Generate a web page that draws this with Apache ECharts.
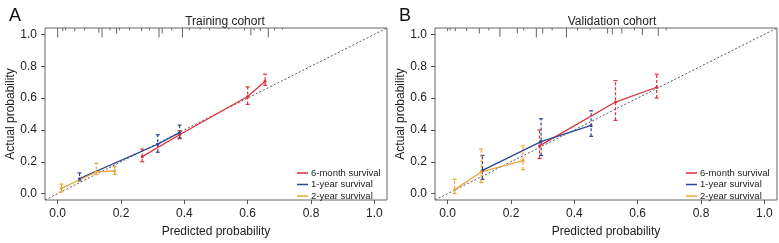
<!DOCTYPE html>
<html>
<head>
<meta charset="utf-8">
<script src="https://cdn.jsdelivr.net/npm/echarts@6/dist/echarts.min.js"></script>
<style>
  html, body { margin: 0; padding: 0; background: #fff; }
  #chart { width: 779px; height: 243px; }
</style>
</head>
<body>
<div id="chart"></div>
<script>
// tick labels shared by both panels
var axisTicks = [0, 0.2, 0.4, 0.6, 0.8, 1.0];
var seriesNames = ['6-month survival', '1-year survival', '2-year survival'];
var seriesColors = ['#e0313b', '#2d4592', '#eda53a'];

// training cohort: [predicted, actual] and [predicted, lower, upper]
var trainSixMonth = [[0.267, 0.232], [0.385, 0.370], [0.600, 0.610], [0.655, 0.705]];
var trainSixMonthErr = [[0.267, 0.20, 0.28], [0.385, 0.345, 0.395], [0.600, 0.56, 0.67], [0.655, 0.68, 0.75]];
var trainOneYear = [[0.069, 0.094], [0.316, 0.310], [0.385, 0.383]];
var trainOneYearErr = [[0.069, 0.08, 0.13], [0.316, 0.26, 0.37], [0.385, 0.35, 0.43]];
var trainTwoYear = [[0.012, 0.033], [0.122, 0.136], [0.180, 0.142]];
var trainTwoYearErr = [[0.012, 0.01, 0.06], [0.122, 0.12, 0.19], [0.180, 0.12, 0.17]];

// validation cohort
var valSixMonth = [[0.290, 0.300], [0.530, 0.575], [0.660, 0.668]];
var valSixMonthErr = [[0.290, 0.22, 0.40], [0.530, 0.46, 0.71], [0.660, 0.60, 0.75]];
var valOneYear = [[0.110, 0.146], [0.295, 0.327], [0.453, 0.428]];
var valOneYearErr = [[0.110, 0.09, 0.24], [0.295, 0.24, 0.47], [0.453, 0.36, 0.52]];
var valTwoYear = [[0.022, 0.025], [0.106, 0.136], [0.238, 0.208]];
var valTwoYearErr = [[0.022, 0.00, 0.09], [0.106, 0.07, 0.28], [0.238, 0.15, 0.30]];

// rug of predicted probabilities along the top: [predicted, spike length]
var trainRug = [[0.000, 0.06], [0.016, 0.02], [0.025, 0.015], [0.054, 0.02], [0.085, 0.015],
  [0.130, 0.03], [0.140, 0.06], [0.165, 0.015], [0.186, 0.035], [0.195, 0.015],
  [0.227, 0.015], [0.265, 0.02], [0.290, 0.015], [0.320, 0.06], [0.330, 0.035],
  [0.360, 0.015], [0.394, 0.06], [0.416, 0.015], [0.450, 0.01], [0.480, 0.015],
  [0.540, 0.01], [0.590, 0.015], [0.610, 0.045], [0.620, 0.015], [0.640, 0.02],
  [0.665, 0.06], [0.685, 0.015], [0.710, 0.01]];
var valRug = [[0.000, 0.02], [0.008, 0.015], [0.024, 0.02], [0.060, 0.02], [0.100, 0.035],
  [0.130, 0.015], [0.165, 0.055], [0.220, 0.035], [0.240, 0.015], [0.280, 0.06],
  [0.300, 0.035], [0.330, 0.015], [0.375, 0.06], [0.410, 0.015], [0.450, 0.015],
  [0.505, 0.035], [0.520, 0.04], [0.550, 0.035], [0.590, 0.015], [0.615, 0.045],
  [0.665, 0.05], [0.690, 0.015]];

var lo = -0.04, hi = 1.04;
var font = 'Liberation Sans, Arial, sans-serif';

function makeErr(color) {
  return function (params, api) {
    var x = api.value(0);
    var a = api.coord([x, api.value(1)]);
    var b = api.coord([x, api.value(2)]);
    var st = { stroke: color, lineWidth: 1.2 };
    return {
      type: 'group',
      children: [
        { type: 'line', shape: { x1: a[0], y1: a[1], x2: b[0], y2: b[1] }, style: { stroke: color, lineWidth: 1.2, lineDash: [3, 2] } },
        { type: 'line', shape: { x1: a[0] - 2, y1: a[1], x2: a[0] + 2, y2: a[1] }, style: st },
        { type: 'line', shape: { x1: b[0] - 2, y1: b[1], x2: b[0] + 2, y2: b[1] }, style: st }
      ]
    };
  };
}

function rugItem(params, api) {
  var x = api.value(0);
  var a = api.coord([x, hi]);
  var b = api.coord([x, hi - api.value(1)]);
  return { type: 'line', shape: { x1: a[0], y1: a[1], x2: b[0], y2: b[1] }, style: { stroke: '#666', lineWidth: 1 } };
}

function panelSeries(idx, lines, errs, rug) {
  var out = [];
  out.push({
    type: 'line', xAxisIndex: idx, yAxisIndex: idx, silent: true,
    data: [[lo, lo], [hi, hi]], symbol: 'none',
    lineStyle: { color: '#555', width: 1, type: [2, 2] }, z: 1
  });
  out.push({
    type: 'custom', xAxisIndex: idx, yAxisIndex: idx, silent: true,
    renderItem: rugItem, data: rug, encode: { x: 0, y: 1 }, z: 1
  });
  for (var i = 0; i < 3; i++) {
    out.push({
      type: 'custom', name: seriesNames[i], xAxisIndex: idx, yAxisIndex: idx, silent: true,
      renderItem: makeErr(seriesColors[i]), data: errs[i], encode: { x: 0, y: [1, 2] },
      itemStyle: { color: seriesColors[i] }, z: 2
    });
    out.push({
      type: 'line', name: seriesNames[i], xAxisIndex: idx, yAxisIndex: idx,
      data: lines[i], symbol: 'circle', symbolSize: 3,
      itemStyle: { color: seriesColors[i] },
      lineStyle: { color: seriesColors[i], width: 1.3 }, z: 3
    });
  }
  return out;
}

function xAx(idx) {
  return {
    type: 'value', gridIndex: idx, min: lo, max: hi,
    splitLine: { show: false }, axisLine: { show: false, onZero: false },
    axisTick: { show: true, inside: false, length: 4, customValues: axisTicks, lineStyle: { color: '#555' } },
    axisLabel: { customValues: axisTicks, margin: 8, fontSize: 12, color: '#222', fontFamily: font,
      formatter: function (v) { return v.toFixed(1); } },
    name: 'Predicted probability', nameLocation: 'middle', nameGap: 26, nameMoveOverlap: false,
    nameTextStyle: { fontSize: 12, color: '#222', fontFamily: font }
  };
}
function yAx(idx) {
  return {
    type: 'value', gridIndex: idx, min: lo, max: hi,
    splitLine: { show: false }, axisLine: { show: false, onZero: false },
    axisTick: { show: true, inside: false, length: 4, customValues: axisTicks, lineStyle: { color: '#555' } },
    axisLabel: { customValues: axisTicks, margin: 8, fontSize: 12, color: '#222', fontFamily: font,
      formatter: function (v) { return v.toFixed(1); } },
    name: 'Actual probability', nameLocation: 'middle', nameGap: 28, nameMoveOverlap: false,
    nameTextStyle: { fontSize: 12, color: '#222', fontFamily: font }
  };
}

function legendAt(left) {
  return {
    orient: 'vertical', left: left, top: 163, itemGap: 1.5,
    icon: 'rect', itemWidth: 11, itemHeight: 1.5,
    data: seriesNames,
    textStyle: { fontSize: 9.5, color: '#222', fontFamily: font, padding: [0, 0, 0, -2] }
  };
}

var chart = echarts.init(document.getElementById('chart'));
chart.setOption({
  animation: false,
  title: [
    { text: 'A', left: 4, top: 2, textStyle: { fontSize: 18, fontWeight: 'normal', color: '#111', fontFamily: font } },
    { text: 'B', left: 394, top: 2, textStyle: { fontSize: 18, fontWeight: 'normal', color: '#111', fontFamily: font } },
    { text: 'Training cohort', left: 220, top: 11, textAlign: 'center', textStyle: { fontSize: 12, fontWeight: 'normal', color: '#222', fontFamily: font } },
    { text: 'Validation cohort', left: 607, top: 11, textAlign: 'center', textStyle: { fontSize: 12, fontWeight: 'normal', color: '#222', fontFamily: font } }
  ],
  legend: [legendAt(292), legendAt(681)],
  grid: [
    { left: 45, top: 28, width: 342, height: 175, show: true, borderColor: '#666', borderWidth: 1 },
    { left: 435, top: 28, width: 342, height: 175, show: true, borderColor: '#666', borderWidth: 1 }
  ],
  xAxis: [xAx(0), xAx(1)],
  yAxis: [yAx(0), yAx(1)],
  series: panelSeries(0, [trainSixMonth, trainOneYear, trainTwoYear],
      [trainSixMonthErr, trainOneYearErr, trainTwoYearErr], trainRug)
    .concat(panelSeries(1, [valSixMonth, valOneYear, valTwoYear],
      [valSixMonthErr, valOneYearErr, valTwoYearErr], valRug))
});
</script>
</body>
</html>
